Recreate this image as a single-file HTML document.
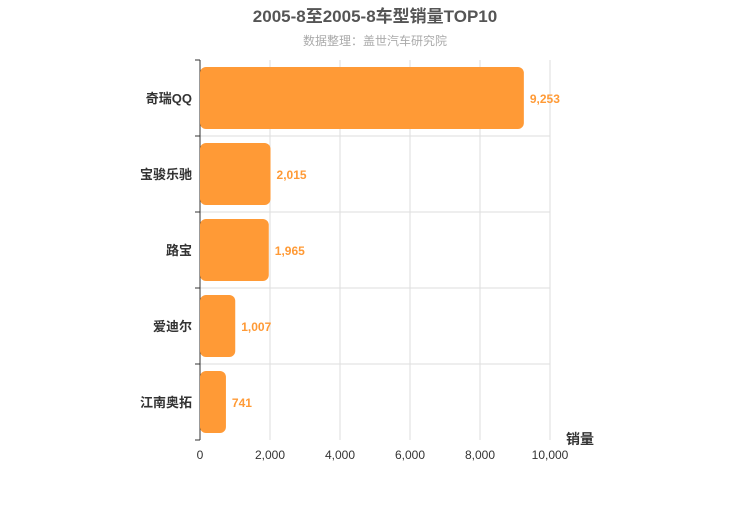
<!DOCTYPE html>
<html><head><meta charset="utf-8"><style>
body{margin:0;background:#fff;}
svg{font-family:"Liberation Sans","Noto Sans CJK SC",sans-serif;}
</style></head><body>
<svg id="c" width="750" height="500">
<text x="375" y="22" text-anchor="middle" font-size="17" font-weight="bold" fill="#555">2005-8至2005-8车型销量TOP10</text>
<text x="375" y="45" text-anchor="middle" font-size="12" fill="#aaa">数据整理：盖世汽车研究院</text>
<text x="580" y="444" text-anchor="middle" font-size="14" font-weight="bold" fill="#333">销量</text>
<g id="g"></g>
</svg>
<script>
const categories=["奇瑞QQ","宝骏乐驰","路宝","爱迪尔","江南奥拓"];
const values=[9253,2015,1965,1007,741];
const ticks=[0,2000,4000,6000,8000,10000];
const NS="http://www.w3.org/2000/svg";
const g=document.getElementById('g');
const x0=200,x1=550,y0=60,y1=440,max=10000;
const xs=v=>x0+(v/max)*(x1-x0);
const band=(y1-y0)/categories.length;
function mk(t,a){const e=document.createElementNS(NS,t);for(const k in a)e.setAttribute(k,a[k]);g.appendChild(e);return e;}
ticks.forEach((t,i)=>{
 const gl=mk('line',{x1:xs(t),x2:xs(t),y1:y0,y2:y1,stroke:'#ddd'});
 
 
 const tl=mk('text',{x:xs(t),y:y1+19,'text-anchor':'middle','font-size':12,fill:'#333'});
 tl.textContent=t.toLocaleString('en-US');
 
 
});
for(let i=0;i<=categories.length;i++){
 const y=y0+i*band;
 if(i>0&&i<categories.length){const l=mk('line',{x1:x0,x2:x1,y1:y,y2:y,stroke:'#ddd'});
 
 }
 const tk=mk('line',{x1:x0-5,x2:x0,y1:y,y2:y,stroke:'#333'});
 
 
}
const ax=mk('line',{x1:x0,x2:x0,y1:y0,y2:y1,stroke:'#333'});


categories.forEach((c,i)=>{
 const yc=y0+band*(i+0.5);
 const b=mk('rect',{x:x0,y:yc-31,width:xs(values[i])-x0,height:62,rx:6,fill:'#ff9a36'});
 
 
 const v=mk('text',{x:xs(values[i])+6,y:yc+5,'font-size':12,'font-weight':'bold',fill:'#ff9a36'});
 v.textContent=values[i].toLocaleString('en-US');
 
 
 const l=mk('text',{x:x0-8,y:yc+5,'text-anchor':'end','font-size':13,'font-weight':'bold',fill:'#333'});
 l.textContent=c;
 
 
});
</script>
</body></html>
